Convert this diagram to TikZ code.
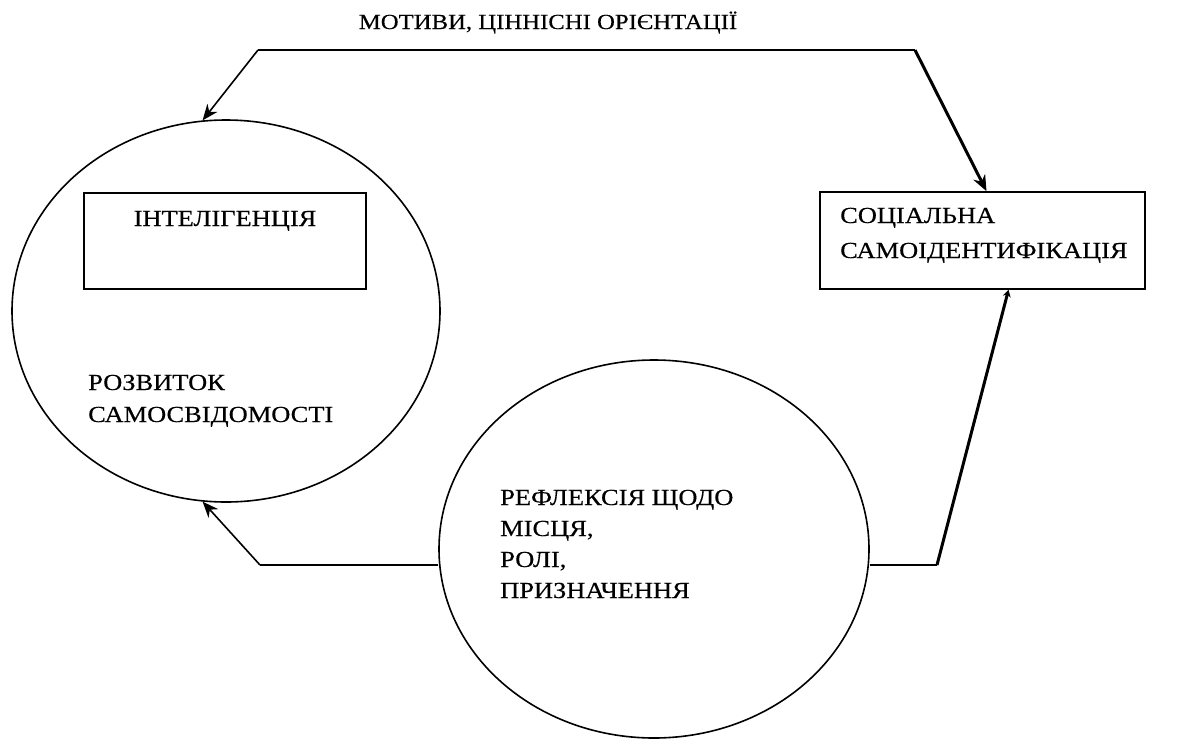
\documentclass[tikz,border=0pt]{standalone}
\usepackage{fontspec}
\setmainfont{Liberation Serif}[FakeStretch=1.15, FakeBold=0.4]
\usetikzlibrary{shapes.geometric,arrows.meta,calc}

\begin{document}
\begin{tikzpicture}[x=1pt,y=-1pt,
  oval/.style={ellipse, draw, line width=1.6pt, inner sep=0pt},
  frame/.style={rectangle, draw, line width=1.6pt, inner sep=0pt},
  txt/.style={font=\fontsize{23}{32}\selectfont, inner sep=0pt, align=left},
  conn/.style={line width=1.6pt},
  heavy/.style={line width=3pt},
  tip/.style={-{Stealth[length=16pt,width=13pt]}},
  blob/.style={-{Stealth[length=7pt,width=8pt]}}]
\useasboundingbox (0,0) rectangle (1179,742);

% title above the upper connector
\node[txt, anchor=base, font=\fontsize{21.5}{32}\selectfont] (motives) at (548,29)
  {МОТИВИ, ЦІННІСНІ ОРІЄНТАЦІЇ};

% the two ovals
\node[oval, minimum width=428pt, minimum height=382pt] (self) at (226,311) {};
\node[oval, minimum width=430pt, minimum height=378pt] (refl) at (654,549) {};

% boxes
\node[frame, minimum width=282pt, minimum height=96pt] (intel) at (225,241) {};
\node[frame, minimum width=325pt, minimum height=97pt] (soc) at (982.5,240.5) {};

% labels (multi-line nodes are anchored on the baseline of their last line)
\node[txt, anchor=base] (intelT) at (225,226) {ІНТЕЛІГЕНЦІЯ};
\node[txt, anchor=base west] (selfT) at (88,422) {РОЗВИТОК\\САМОСВІДОМОСТІ};
\node[txt, anchor=base west, font=\fontsize{23}{35}\selectfont] (socT) at (840,258)
  {СОЦІАЛЬНА\\САМОІДЕНТИФІКАЦІЯ};
\node[txt, anchor=base west, font=\fontsize{23}{31}\selectfont] (reflT) at (500,598)
  {РЕФЛЕКСІЯ ЩОДО\\МІСЦЯ,\\РОЛІ,\\ПРИЗНАЧЕННЯ};

% corner points of the connectors
\coordinate (tl) at (258,50);
\coordinate (tr) at (915,50);
\coordinate (bl) at (260,565);
\coordinate (br) at (937,565);

% upper connector
\draw[conn] (tl) -- (tr);
\draw[conn, tip] (tl) -- (self.97);
\draw[heavy, tip] (tr) -- ([xshift=4pt]soc.north);

% lower connector
\draw[conn] (refl.west |- bl) -- (bl);
\draw[conn, tip] (bl) -- (self.263);
\draw[conn] (refl.east |- br) -- (br);
\draw[heavy, blob] (br) -- ([xshift=26pt]soc.south);
\end{tikzpicture}
\end{document}
